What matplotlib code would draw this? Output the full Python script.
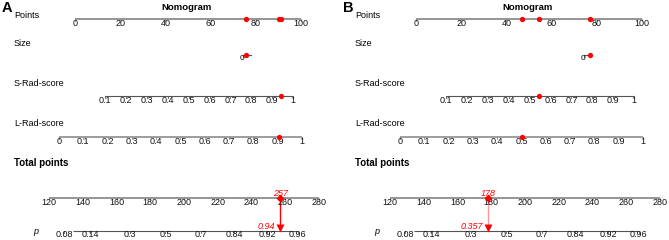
import numpy as np
import matplotlib
matplotlib.use("Agg")
import matplotlib.pyplot as plt

plt.rcParams['font.family'] = ['Liberation Sans', 'DejaVu Sans']

# ---------------- data ----------------
panel_labels = ["A", "B"]
size_points = [75.7, 77.0]          # points contributed by Size
size_axis_end = [77.9, 77.0]        # end of the short Size scale (points)
s_rad_values = [0.943, 0.545]
l_rad_values = [0.906, 0.502]
total_points = [257, 178]
prob_values = [0.94, 0.357]
prob_labels = ["0.94", "0.357"]
arrow_colors = ["#ff0000", "#ff9999"]

points_ticks = [0, 20, 40, 60, 80, 100]
size_ticks = [0]
size_start_points = 74.3
s_rad_ticks = [0.1, 0.2, 0.3, 0.4, 0.5, 0.6, 0.7, 0.8, 0.9, 1.0]
s_rad_tick_labels = ["0.1", "0.2", "0.3", "0.4", "0.5", "0.6", "0.7", "0.8", "0.9", "1"]
s_rad_points_range = (13.3, 96.5)      # points at S-Rad 0.1 and 1
l_rad_ticks = [0.0, 0.1, 0.2, 0.3, 0.4, 0.5, 0.6, 0.7, 0.8, 0.9, 1.0]
l_rad_tick_labels = ["0", "0.1", "0.2", "0.3", "0.4", "0.5", "0.6", "0.7", "0.8", "0.9", "1"]
l_rad_points_range = (-7.1, 100.4)     # points at L-Rad 0 and 1
total_ticks = [120, 140, 160, 180, 200, 220, 240, 260, 280]
total_position_range = (-11.5, 108.0)  # position of total 120 and 280
p_ticks = [0.08, 0.14, 0.3, 0.5, 0.7, 0.84, 0.92, 0.96]
p_tick_labels = ["0.08", "0.14", "0.3", "0.5", "0.7", "0.84", "0.92", "0.96"]
p_line_total_range = (134, 267)
logit_slope = 0.0406
logit_center = 189.0


# ---------------- mappings ----------------
def s_rad_to_pts(v):
    a, b = s_rad_points_range
    return a + (np.asarray(v) - 0.1) / 0.9 * (b - a)


def l_rad_to_pts(v):
    a, b = l_rad_points_range
    return a + np.asarray(v) * (b - a)


def total_to_pos(t):
    a, b = total_position_range
    return a + (np.asarray(t, dtype=float) - 120) / 160 * (b - a)


def p_to_total(p):
    p = np.asarray(p)
    return logit_center + np.log(p / (1 - p)) / logit_slope


# layout: pixel <-> position
PX0, PXU = 75.0, 2.26


def px(x):
    return (x - PX0) / PXU


W, H = 669, 240
fig = plt.figure(figsize=(W / 100, H / 100), dpi=100)

GRAY = "#8c8c8c"
DARK = "#555555"
FS = 6.5


def draw_scale(ax, y, positions, labels, line_range, color, lw, dy=4.3):
    ax.plot(line_range, [y, y], color=color, lw=lw, solid_capstyle='butt', zorder=1)
    for p, lab in zip(positions, labels):
        ax.plot([p, p], [y, y + 1.8], color=color, lw=0.6, zorder=1)
        ax.text(p, y + dy, lab, ha='center', va='center', fontsize=FS, color='#111111')


offsets = [0, 341]
for i, lab in enumerate(panel_labels):
    ax = fig.add_axes([offsets[i] / W, 0, 328 / W, 1])
    ax.set_xlim(px(0), px(328))
    ax.set_ylim(H, 0)
    ax.axis('off')

    # headings
    ax.text(px(2), 8, lab, fontsize=10.5, fontweight='bold', ha='left', va='center')
    ax.text(px(187), 8, "Nomogram", fontsize=6.8, fontweight='bold', ha='center', va='center')
    for txt, yy in [("Points", 16), ("Size", 43), ("S-Rad-score", 84), ("L-Rad-score", 124)]:
        ax.text(px(14), yy, txt, fontsize=FS, ha='left', va='center')
    ax.text(px(14), 163, "Total points", fontsize=7, fontweight='bold', ha='left', va='center')
    ax.text(px(36), 231, "p", fontsize=FS, style='italic', ha='center', va='center')

    # Points scale
    draw_scale(ax, 19, points_ticks, [str(t) for t in points_ticks], (0, 100), GRAY, 1.3, dy=4.3)
    # Size scale
    ax.plot([size_start_points, size_axis_end[i]], [55, 55], color=DARK, lw=0.8, zorder=1)
    ax.plot([size_start_points, size_start_points], [55, 57], color=DARK, lw=0.6)
    ax.text(size_start_points - 0.6, 58, "0", fontsize=FS - 0.5, ha='center', va='center')
    # S-Rad scale
    sp = s_rad_to_pts(s_rad_ticks)
    draw_scale(ax, 96, sp, s_rad_tick_labels, (sp[0], sp[-1]), DARK, 0.8, dy=4.3)
    # L-Rad scale
    lp = l_rad_to_pts(l_rad_ticks)
    draw_scale(ax, 137, lp, l_rad_tick_labels, (lp[0], lp[-1]), GRAY, 1.2, dy=4.3)
    # Total points scale
    tp = total_to_pos(total_ticks)
    draw_scale(ax, 198, tp, [str(t) for t in total_ticks], (tp[0], tp[-1]), GRAY, 1.3, dy=4.8)
    # p scale
    pp = total_to_pos(p_to_total(p_ticks))
    pl = total_to_pos(p_line_total_range)
    draw_scale(ax, 231, pp, p_tick_labels, (pl[0], pl[1]), DARK, 0.8, dy=3.8)

    # component markers
    sz = size_points[i]
    s_pt = float(s_rad_to_pts(s_rad_values[i]))
    l_pt = float(l_rad_to_pts(l_rad_values[i]))
    red = "#ff0000"
    ax.plot([sz, s_pt, l_pt], [19, 19, 19], 'o', color=red, ms=3.8, mec='none', zorder=3)
    ax.plot([sz], [55], 'o', color=red, ms=3.8, mec='none', zorder=3)
    ax.plot([s_pt], [96], 'o', color=red, ms=3.8, mec='none', zorder=3)
    ax.plot([l_pt], [137], 'o', color=red, ms=3.8, mec='none', zorder=3)

    # total and probability
    tpos = float(total_to_pos(total_points[i]))
    ax.plot([tpos, tpos], [198, 226], color=arrow_colors[i], lw=1.0, zorder=2)
    ax.plot([tpos], [198], 'D', color=red, ms=4, mec='none', zorder=3)
    ax.plot([tpos], [227.5], 'v', color=red, ms=6, mec='none', zorder=3)
    ax.text(tpos, 193.5, str(total_points[i]), fontsize=FS, style='italic', color=red,
            ha='center', va='center')
    ax.text(tpos - 2.3, 226.5, prob_labels[i], fontsize=FS, style='italic', color=red,
            ha='right', va='center')

fig.savefig("out.png", dpi=100)
